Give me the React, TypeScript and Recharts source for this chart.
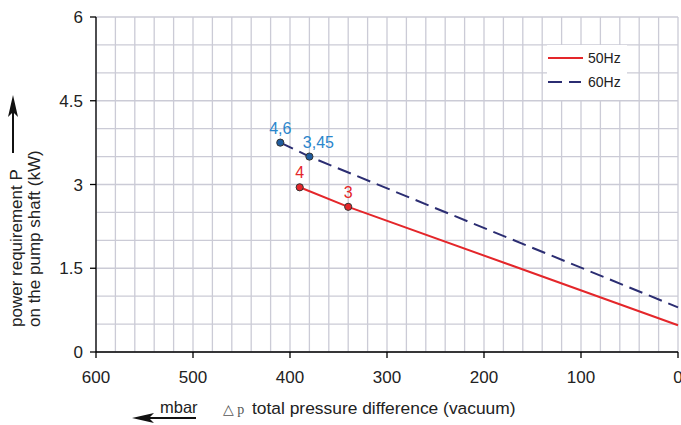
import { CartesianGrid, LabelList, Line, LineChart, XAxis, YAxis } from "recharts";

// pressure difference in mbar, power in kW
const pressure50 = [390, 340, 0];
const power50 = [2.95, 2.6, 0.48];
const labels50 = ["4", "3", ""];

const pressure60 = [410, 380, 0];
const power60 = [3.75, 3.5, 0.8];
const labels60 = ["4,6", "3,45", ""];

const xMajor = [600, 500, 400, 300, 200, 100, 0];
const yMajor = [0, 1.5, 3, 4.5, 6];
const xGrid = Array.from({ length: 31 }, (_, i) => i * 20);
const yGrid = Array.from({ length: 13 }, (_, i) => i * 0.5);

const RED = "#e4262a";
const NAVY = "#2b2d72";
const BLUE = "#2a86cc";
const FONT = "'Liberation Sans', Arial, sans-serif";

const data50 = pressure50.map((p, i) => ({ p, v: power50[i], label: labels50[i] }));
const data60 = pressure60.map((p, i) => ({ p, v: power60[i], label: labels60[i] }));

function XTick({ x, y, payload }: any) {
  if (!xMajor.includes(payload.value)) return null;
  return (
    <g>
      <line x1={x} x2={x} y1={y - 6} y2={y} stroke="#000" strokeWidth={1.3} />
      <text x={x} y={y + 25} textAnchor="middle" fontSize={17} fontFamily={FONT} fill="#222">
        {payload.value}
      </text>
    </g>
  );
}

function YTick({ x, y, payload }: any) {
  if (!yMajor.includes(payload.value)) return null;
  return (
    <g>
      <line x1={x} x2={x + 6} y1={y} y2={y} stroke="#000" strokeWidth={1.3} />
      <text x={x - 7} y={y + 6} textAnchor="end" fontSize={17} fontFamily={FONT} fill="#222">
        {payload.value}
      </text>
    </g>
  );
}

function makeDot(fill: string) {
  return (props: any) => {
    const { cx, cy, payload, index } = props;
    if (!payload.label) return <g key={index} />;
    return <circle key={index} cx={cx} cy={cy} r={3.6} fill={fill} stroke="#333" strokeWidth={1} />;
  };
}

function makeLabel(fill: string, shift: number[]) {
  return (props: any) => {
    const { x, y, value, index } = props;
    if (!value) return null;
    return (
      <text
        x={x + (shift[index] || 0)}
        y={y - 9}
        textAnchor="middle"
        fontSize={16}
        fontFamily={FONT}
        fill={fill}
      >
        {value}
      </text>
    );
  };
}

export default function App() {
  return (
    <div style={{ position: "absolute", left: 0, top: 0, width: 681, height: 425, background: "#fff" }}>
      <LineChart width={681} height={425} margin={{ top: 17, right: 3, left: 56, bottom: 43 }}>
        <CartesianGrid stroke="#cbcbd6" strokeWidth={1.3} />
        <XAxis
          dataKey="p"
          type="number"
          domain={[0, 600]}
          reversed
          ticks={xGrid}
          interval={0}
          tick={<XTick />}
          tickLine={false}
          tickSize={6}
          tickMargin={0}
          height={30}
          axisLine={{ stroke: "#000", strokeWidth: 1.3 }}
          allowDuplicatedCategory={false}
        />
        <YAxis
          type="number"
          domain={[0, 6]}
          ticks={yGrid}
          interval={0}
          tick={<YTick />}
          tickLine={false}
          tickSize={6}
          tickMargin={0}
          width={40}
          axisLine={{ stroke: "#000", strokeWidth: 1.3 }}
        />
        <Line
          data={data50}
          dataKey="v"
          name="50Hz"
          stroke={RED}
          strokeWidth={2}
          dot={makeDot(RED)}
          activeDot={false}
          isAnimationActive={false}
        >
          <LabelList dataKey="label" content={makeLabel(RED, [0, 0])} />
        </Line>
        <Line
          data={data60}
          dataKey="v"
          name="60Hz"
          stroke={NAVY}
          strokeWidth={2}
          strokeDasharray="14 7"
          dot={makeDot("#1f5c9e")}
          activeDot={false}
          isAnimationActive={false}
        >
          <LabelList dataKey="label" content={makeLabel(BLUE, [0, 9])} />
        </Line>
      </LineChart>
      <svg
        width={681}
        height={425}
        style={{ position: "absolute", left: 0, top: 0, pointerEvents: "none" }}
        fontFamily={FONT}
        fill="#222"
      >
        {/* legend */}
        <rect x={547} y={45} width={80} height={55} fill="#fff" />
        <line x1={548} x2={583} y1={58} y2={58} stroke={RED} strokeWidth={2} />
        <text x={588} y={63} fontSize={14}>50Hz</text>
        <line x1={548} x2={581} y1={82} y2={82} stroke={NAVY} strokeWidth={2} strokeDasharray="14 7" />
        <text x={588} y={87} fontSize={14}>60Hz</text>

        {/* axis titles */}
        <text transform="translate(22,327) rotate(-90)" fontSize={17}>power requirement P</text>
        <text transform="translate(40,327) rotate(-90)" fontSize={17}>on the pump shaft (kW)</text>
        <line x1={13} x2={13} y1={153} y2={110} stroke="#111" strokeWidth={2} />
        <polygon points="13,95 8,117 13,112 18,117" fill="#111" />
        <line x1={146} x2={196} y1={418} y2={418} stroke="#111" strokeWidth={2} />
        <polygon points="132,418 154,413 149,418 154,423" fill="#111" />
        <text x={160} y={413} fontSize={16.5}>mbar</text>
        <text x={223} y={414} fontSize={14} fontFamily="'Liberation Serif', 'DejaVu Serif', serif" fill="#555">
          △ p
        </text>
        <text x={252} y={414} fontSize={17.4}>total pressure difference (vacuum)</text>
      </svg>
    </div>
  );
}
